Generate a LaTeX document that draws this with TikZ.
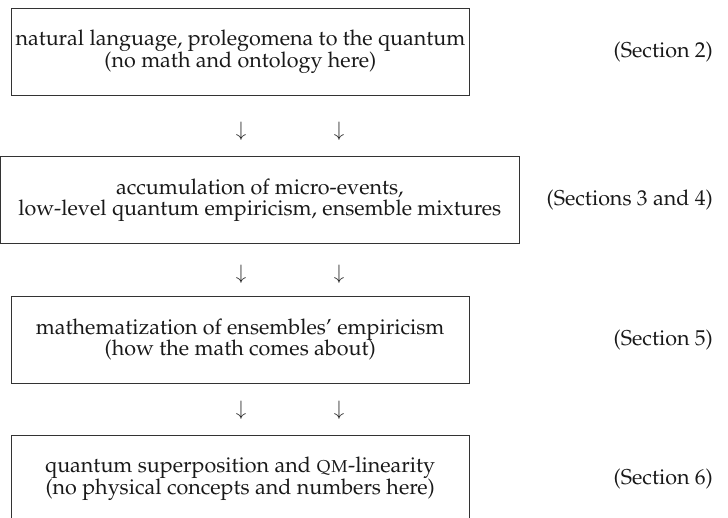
\documentclass[tikz,border=0pt]{standalone}
\usepackage[T1]{fontenc}
\usepackage{mathpazo}
\begin{document}
\begin{tikzpicture}[x=1pt,y=1pt,
  stagebox/.style={draw=black!80,line width=0.9pt,rectangle,align=center,inner sep=0pt,
    font=\fontsize{21.5}{21.9}\selectfont,text=black!90},
  seclabel/.style={anchor=east,inner sep=0pt,font=\fontsize{21.5}{21.9}\selectfont,text=black!90},
  arrowglyph/.style={inner sep=0pt,font=\fontsize{20}{22}\selectfont,text=black!85}]
\useasboundingbox (0,0) rectangle (728,-518);
\clip (0,0) rectangle (728,-518);
\node[stagebox,minimum width=457.8pt,minimum height=87.7pt] (b1) at (240.4,-51.9)
  {natural language, prolegomena to the quantum\\(no math and ontology here)};
\node[stagebox,minimum width=518.5pt,minimum height=87.3pt] (b2) at (259.8,-200.3)
  {accumulation of micro-events,\\low-level quantum empiricism, ensemble mixtures};
\node[stagebox,minimum width=457.8pt,minimum height=87pt] (b3) at (240.2,-339.5)
  {mathematization of ensembles' empiricism\\(how the math comes about)};
\node[stagebox,minimum width=457.8pt,minimum height=87.7pt] (b4) at (240.2,-479.2)
  {quantum superposition and \textsc{qm}-linearity\\(no physical concepts and numbers here)};
\node[seclabel] (s1) at (713,-51.9) {(Section 2)};
\node[seclabel] (s2) at (713,-200.3) {(Sections 3 and 4)};
\node[seclabel] (s3) at (713,-339.5) {(Section 5)};
\node[seclabel] (s4) at (713,-479.2) {(Section 6)};
\node[arrowglyph] (a1l) at (241,-131) {$\downarrow$};
\node[arrowglyph] (a1r) at (339,-131) {$\downarrow$};
\node[arrowglyph] (a2l) at (241,-274) {$\downarrow$};
\node[arrowglyph] (a2r) at (339,-274) {$\downarrow$};
\node[arrowglyph] (a3l) at (241,-410) {$\downarrow$};
\node[arrowglyph] (a3r) at (339,-410) {$\downarrow$};
\end{tikzpicture}
\end{document}
